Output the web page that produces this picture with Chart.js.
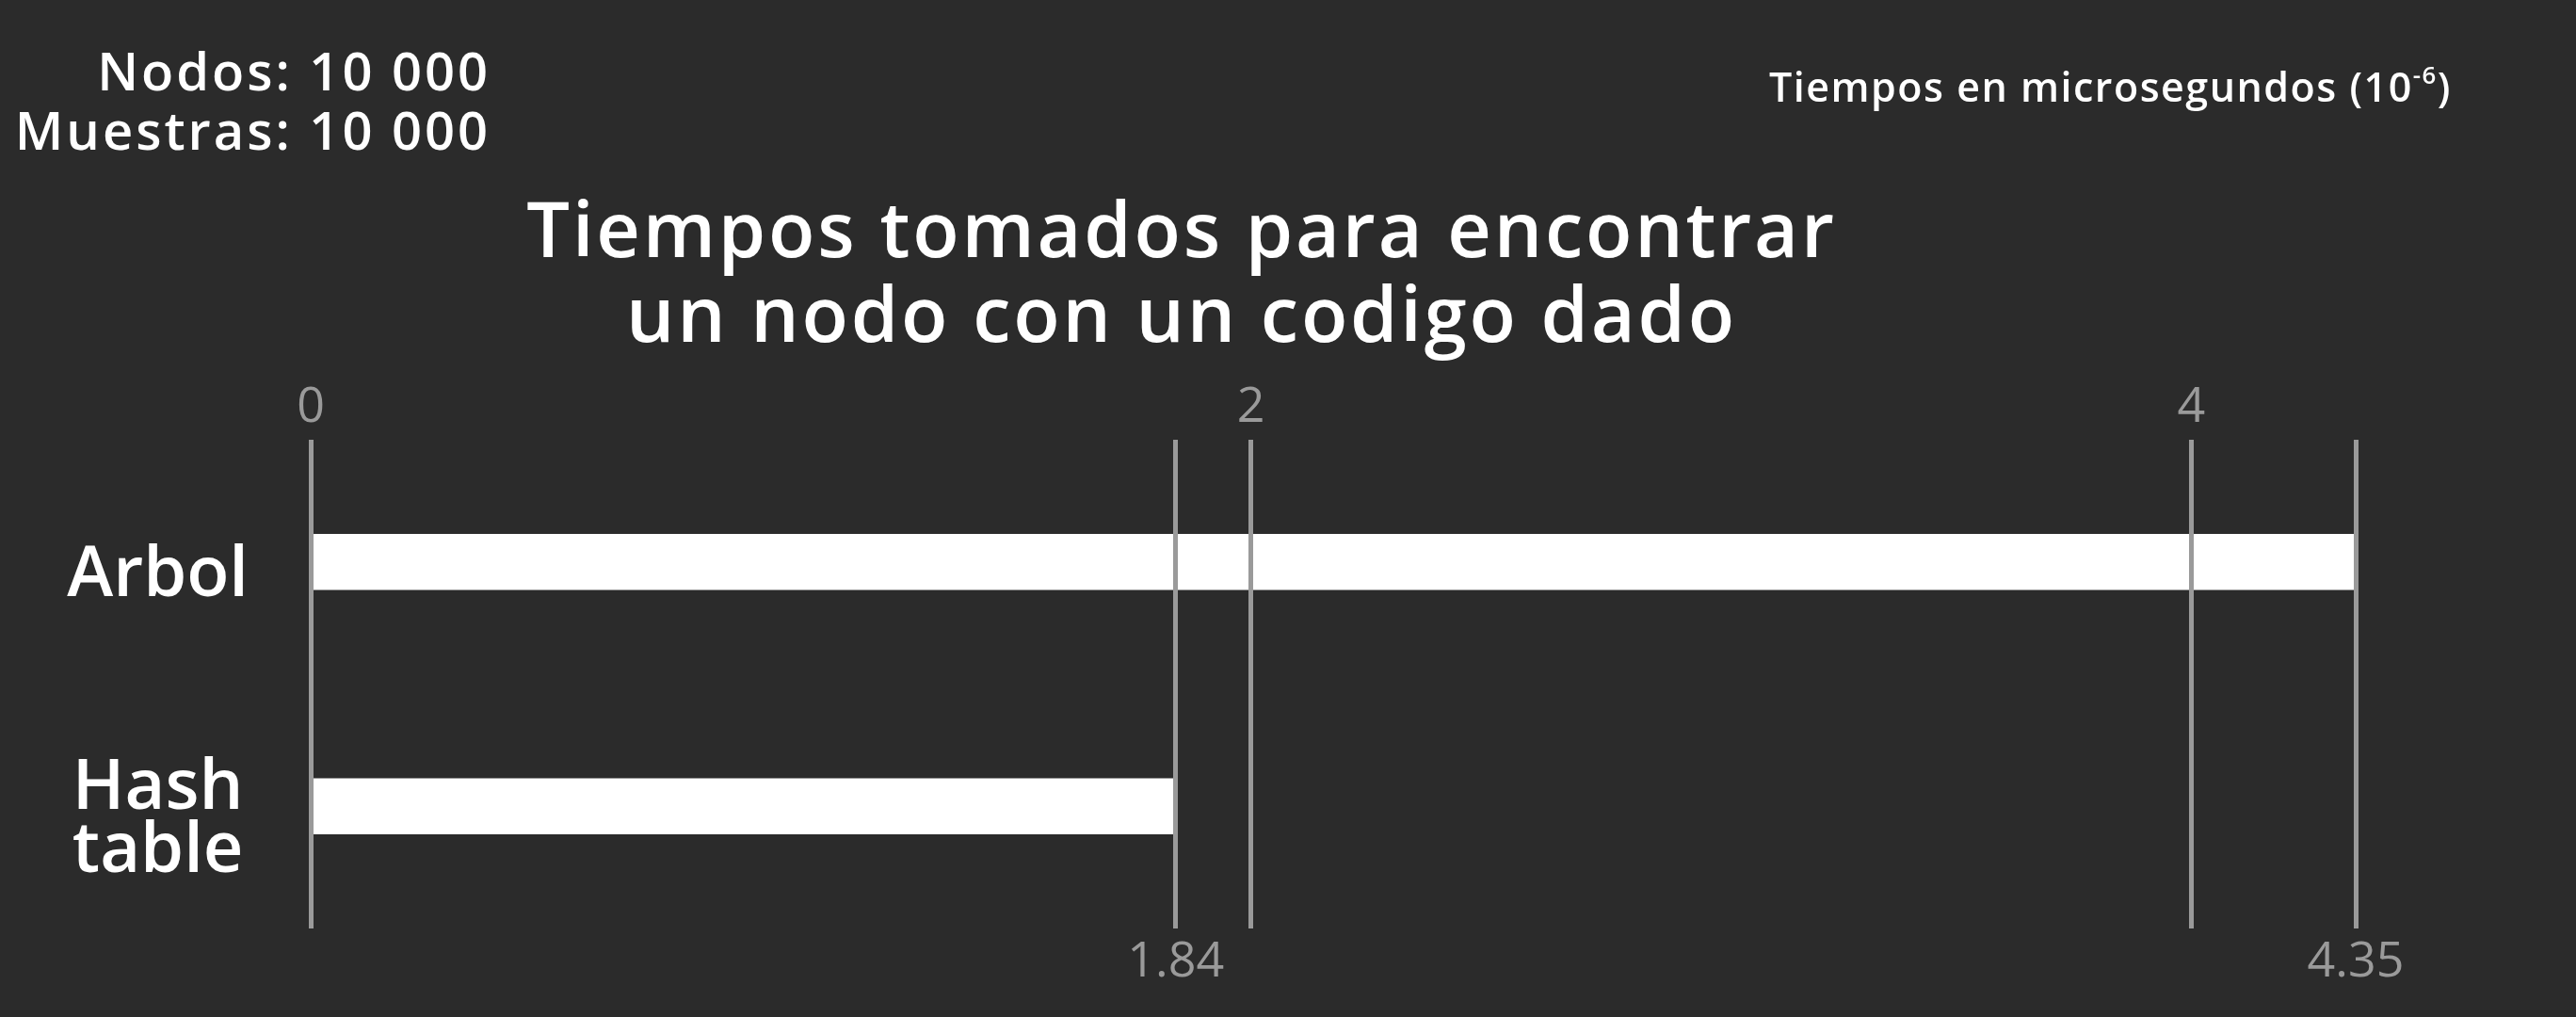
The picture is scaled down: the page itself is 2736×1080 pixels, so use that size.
<!DOCTYPE html>
<html>
<head>
<meta charset="utf-8">
<script src="https://cdn.jsdelivr.net/npm/chart.js@4.4.1/dist/chart.umd.min.js"></script>
<style>
  body { margin: 0; background: #2b2b2b; }
  #wrap { position: relative; width: 2736px; height: 1080px; overflow: hidden; background: #2b2b2b; }
  #wrap div { position: absolute; color: #fff; font-family: 'Open Sans', sans-serif; white-space: nowrap; }
  #info { right: 2215px; top: 43px; font-size: 56px; line-height: 63px; font-weight: 600; letter-spacing: 3px; text-align: right; }
  #units { left: 1879px; top: 67px; font-size: 43px; line-height: 50px; font-weight: 600; letter-spacing: 1.5px; }
  #units sup { font-size: 0.6em; line-height: 0; vertical-align: 0.75em; }
  #title { left: 0; width: 2510px; top: 197px; font-size: 81px; line-height: 90px; font-weight: 600; letter-spacing: 2.8px; text-align: center; }
</style>
</head>
<body>
<div id="wrap">
  <canvas id="chart" width="2736" height="1080"></canvas>
  <div id="info">Nodos: 10 000<br>Muestras: 10 000</div>
  <div id="units">Tiempos en microsegundos (10<sup>-6</sup>)</div>
  <div id="title">Tiempos tomados para encontrar<br>un nodo con un codigo dado</div>
</div>
<script>
var categories = ['Arbol', ['Hash', 'table']];
var tiempos = [4.35, 1.84];
var topTicks = [0, 2, 4];
var bottomTicks = [1.84, 4.35];

var gridColor = '#9a9a9a';
var maxValue = Math.max.apply(null, tiempos);

function setTicks(list) {
    return function(scale) {
        scale.ticks = list.map(function(v) { return { value: v }; });
    };
}

var ctx = document.getElementById('chart');

var chart = new Chart(ctx, {
    type: 'bar',
    data: {
        labels: categories,
        datasets: [{
            data: tiempos,
            backgroundColor: '#ffffff',
            borderWidth: 0,
            barThickness: 59,
            xAxisID: 'x'
        }]
    },
    options: {
        indexAxis: 'y',
        responsive: false,
        animation: false,
        layout: { padding: { left: 0, right: 234, top: 0, bottom: 0 } },
        plugins: {
            legend: { display: false },
            tooltip: { enabled: false }
        },
        scales: {
            x: {
                position: 'top',
                min: 0,
                max: maxValue,
                afterBuildTicks: setTicks(topTicks),
                afterFit: function(scale) { scale.height = 467; },
                grid: { color: gridColor, lineWidth: 5, drawTicks: false, z: 1 },
                border: { display: false },
                ticks: {
                    color: gridColor,
                    padding: 3,
                    maxRotation: 0,
                    autoSkip: false,
                    font: { family: "'Open Sans', sans-serif", size: 52, weight: 500 },
                    callback: function(v) { return String(v); }
                }
            },
            x2: {
                position: 'bottom',
                axis: 'x',
                min: 0,
                max: maxValue,
                afterBuildTicks: setTicks(bottomTicks),
                afterFit: function(scale) { scale.height = 94; },
                grid: { color: gridColor, lineWidth: 5, drawTicks: false, z: 1 },
                border: { display: false },
                ticks: {
                    color: gridColor,
                    padding: 5,
                    maxRotation: 0,
                    autoSkip: false,
                    font: { family: "'Open Sans', sans-serif", size: 52, weight: 500 },
                    callback: function(v) { return String(v); }
                }
            },
            y: {
                afterFit: function(scale) { scale.width = 330; },
                // invisible tick marks give the gap between labels and the plot
                grid: { display: true, drawOnChartArea: false, drawTicks: true, tickLength: 66, color: 'rgba(0,0,0,0)' },
                border: { display: false },
                ticks: {
                    color: '#ffffff',
                    crossAlign: 'center',
                    padding: 0,
                    labelOffset: 15,
                    font: { family: "'Open Sans', sans-serif", size: 74, weight: 600, lineHeight: 0.9 }
                }
            }
        }
    }
});
</script>
</body>
</html>
